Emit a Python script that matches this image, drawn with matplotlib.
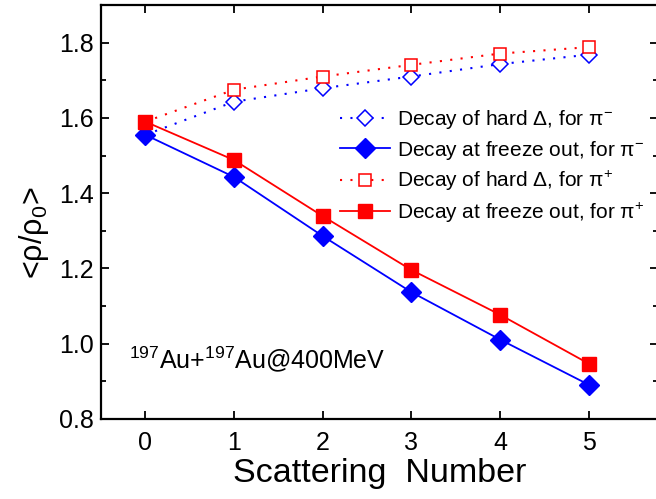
import matplotlib
matplotlib.use("Agg")
import matplotlib.pyplot as plt
from matplotlib.ticker import MultipleLocator, FormatStrFormatter

plt.rcParams['font.family'] = ['Liberation Sans', 'DejaVu Sans']
plt.rcParams['mathtext.fontset'] = 'custom'
plt.rcParams['mathtext.rm'] = 'Liberation Sans'
plt.rcParams['mathtext.it'] = 'Liberation Sans:italic'
plt.rcParams['mathtext.sf'] = 'Liberation Sans'

scatter_number = [0, 1, 2, 3, 4, 5]
hard_pim = [1.555, 1.643, 1.679, 1.71, 1.743, 1.768]
freeze_pim = [1.555, 1.443, 1.286, 1.137, 1.011, 0.891]
hard_pip = [1.59, 1.675, 1.71, 1.741, 1.771, 1.788]
freeze_pip = [1.59, 1.488, 1.339, 1.196, 1.077, 0.947]

labels = ['Decay of hard Δ, for π$^{-}$',
          'Decay at freeze out, for π$^{-}$',
          'Decay of hard Δ, for π$^{+}$',
          'Decay at freeze out, for π$^{+}$']

fig = plt.figure(figsize=(6.56, 4.99), dpi=100)
ax = fig.add_axes([101/656, 1-419/499, (658-101)/656, (419-5)/499])

ax.plot(scatter_number, hard_pim, color='blue', ls=(0, (1, 4)), lw=1.5,
        marker='D', ms=8.5, mfc='white', mec='blue', mew=1.1, label=labels[0])
ax.plot(scatter_number, freeze_pim, color='blue', ls='-', lw=1.3,
        marker='D', ms=10, mfc='blue', mec='blue', label=labels[1])
ax.plot(scatter_number, hard_pip, color='red', ls=(0, (1, 4)), lw=1.5,
        marker='s', ms=9, mfc='white', mec='red', mew=1.1, label=labels[2])
ax.plot(scatter_number, freeze_pip, color='red', ls='-', lw=1.3,
        marker='s', ms=9.5, mfc='red', mec='red', label=labels[3])

ax.set_xlim(-0.5, 5.78)
ax.set_ylim(0.8, 1.9)
ax.set_xticks(scatter_number)
ax.yaxis.set_major_locator(MultipleLocator(0.2))
ax.yaxis.set_minor_locator(MultipleLocator(0.1))
ax.yaxis.set_major_formatter(FormatStrFormatter('%.1f'))
ax.tick_params(which='both', direction='in', top=True, right=True, width=1.3,
               labelsize=18)
ax.tick_params(axis='y', pad=5)
ax.tick_params(axis='x', pad=9)
ax.tick_params(which='major', length=6)
ax.tick_params(which='minor', length=3.5)
for s in ax.spines.values():
    s.set_linewidth(1.6)

ax.set_xlabel('Scattering  Number', fontsize=24.5, labelpad=2)
ax.set_ylabel('<ρ/ρ$_0$>', fontsize=22)
ax.yaxis.set_label_coords(-0.09, 0.45)

ax.text(0.05, 0.123, r'$^{197}$Au+$^{197}$Au@400MeV', transform=ax.transAxes,
        fontsize=18, ha='left', va='baseline')

leg = ax.legend(loc='upper left', bbox_to_anchor=((340-101)/557, 1-(108-5)/414),
                frameon=False, fontsize=15, handlelength=2.4, handletextpad=0.35,
                borderpad=0, borderaxespad=0, labelspacing=0.36)

fig.savefig('out.png', dpi=100)
